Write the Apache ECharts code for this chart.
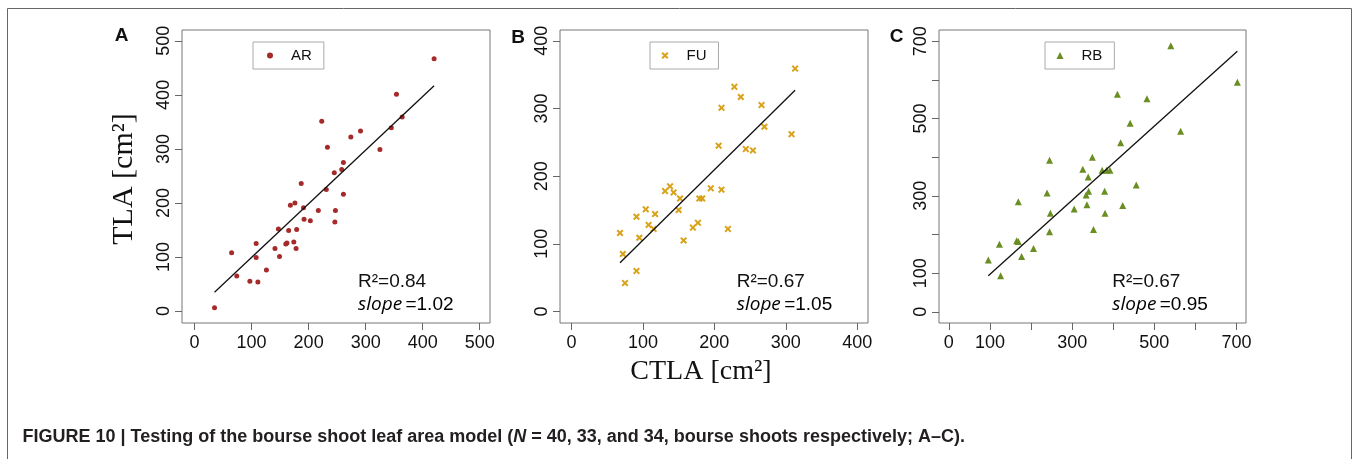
<!DOCTYPE html>
<html><head><meta charset="utf-8">
<script src="https://cdn.jsdelivr.net/npm/echarts@6/dist/echarts.min.js"></script>
<style>html,body{margin:0;padding:0;background:#fff}#c{width:1358px;height:459px}</style>
</head><body><div id="c"></div>
<script>
// ---- data ----
const panelLetters = ['A', 'B', 'C'];
const seriesNames = ['AR', 'FU', 'RB'];
const arData = [[35,6],[65,108],[74,65],[97,55],[111,54],[108,125],[108,99],[126,76],[141,116],[147,152],
  [149,101],[160,124],[162,126],[165,149],[168,196],[176,200],[174,128],[178,116],[179,151],[187,236],
  [191,191],[192,170],[203,167],[217,186],[223,351],[231,225],[233,303],[246,165],[245,256],[247,186],
  [258,262],[261,275],[261,216],[274,322],[291,333],[325,299],[345,339],[354,401],[364,359],[420,467]];
const fuData = [[68,116],[72,85],[75,42],[91,140],[91,60],[95,109],[104,151],[108,128],[115,122],[117,144],
  [131,178],[138,185],[143,176],[150,150],[152,167],[157,105],[170,124],[177,131],[179,167],[183,167],
  [195,182],[206,245],[210,301],[210,180],[219,122],[228,332],[237,317],[244,240],[254,238],[266,305],
  [270,273],[308,262],[313,359]];
const rbData = [[96,134],[123,175],[126,93],[165,184],[169,182],[169,285],[177,143],[206,164],[239,307],
  [245,392],[247,255],[245,207],[305,266],[326,369],[334,302],[336,277],[339,349],[340,312],[349,400],
  [352,213],[373,366],[379,312],[380,255],[384,366],[392,366],[410,563],[418,437],[423,275],[441,488],
  [456,328],[482,551],[540,688],[564,467],[702,594]];
const arFit = [[35,35],[420,417]];
const fuFit = [[68,72],[313,327]];
const rbFit = [[96,93],[702,674]];
const ticksA = [0,100,200,300,400,500];
const ticksB = [0,100,200,300,400];
const ticksC = [0,100,200,300,400,500,600,700];
const labelsC = [0,100,300,500,700];
const r2Texts = ['R²=0.84', 'R²=0.67', 'R²=0.67'];
const slopeTexts = ['1.02', '1.05', '0.95'];
const yTitle = 'TLA [cm²]';
const xTitle = 'CTLA [cm²]';
const captionParts = ['FIGURE 10 | Testing of the bourse shoot leaf area model (', 'N', ' = 40, 33, and 34, bourse shoots respectively; A–C).'];

// ---- layout / style ----
const SANS = '"Liberation Sans", Arial, sans-serif';
const SERIF = '"Liberation Serif", "Times New Roman", serif';
const colors = ['#a52a2a', '#d9a21b', '#6b8e23'];
const xSymbol = 'path://M0,2L2,0L5,3L8,0L10,2L7,5L10,8L8,10L5,7L2,10L0,8L3,5Z';
const grids = [
  {left: 182, top: 30, width: 308, height: 293},
  {left: 560, top: 30, width: 308, height: 293},
  {left: 939, top: 30, width: 307, height: 293}
];
const xr = [[-22, 518], [-16, 415], [-24, 723]];
const yr = [[-22, 520], [-17, 416], [-29, 729]];
const tickSets = [ticksA, ticksB, ticksC];
const labelSets = [ticksA, ticksB, labelsC];

function axis(i, isY) {
  const r = isY ? yr[i] : xr[i];
  return {
    type: 'value', gridIndex: i, min: r[0], max: r[1],
    position: isY ? 'left' : 'bottom',
    axisLine: {show: false, onZero: false},
    splitLine: {show: false},
    axisTick: {show: true, customValues: tickSets[i], length: 7, lineStyle: {color: '#666', width: 1}},
    axisLabel: {
      customValues: labelSets[i], rotate: isY ? 90 : 0, margin: isY ? 9 : 11,
      fontSize: 18, fontFamily: SANS, color: '#111'
    }
  };
}

const legendBoxLeft = [253, 650, 1045];
const iconCenter = [270, 665, 1060];
const iconSize = [6, 7, 7];
const series = [];
const datas = [arData, fuData, rbData];
const fits = [arFit, fuFit, rbFit];
const symbols = ['circle', xSymbol, 'triangle'];
const sizes = [5, 7, 7];
for (let i = 0; i < 3; i++) {
  series.push({
    type: 'scatter', name: seriesNames[i], xAxisIndex: i, yAxisIndex: i,
    data: datas[i], symbol: symbols[i], symbolSize: sizes[i],
    itemStyle: {color: colors[i], opacity: 1}
  });
  series.push({
    type: 'line', name: 'fit' + i, xAxisIndex: i, yAxisIndex: i, data: fits[i],
    symbol: 'none', silent: true, lineStyle: {color: '#111', width: 1.3}
  });
}

const graphic = [
  {type: 'rect', shape: {x: 7.5, y: 8.5, width: 1344, height: 480}, style: {fill: 'none', stroke: '#666', lineWidth: 1}, silent: true},
  {type: 'text', x: 124.5, y: 179, rotation: Math.PI / 2,
    style: {text: yTitle, font: '30px ' + SERIF, fill: '#111', textAlign: 'center', textVerticalAlign: 'middle'}},
  {type: 'text', x: 701, y: 372,
    style: {text: xTitle, font: '28px ' + SERIF, fill: '#111', textAlign: 'center', textVerticalAlign: 'middle'}},
  {type: 'text', x: 22.5, y: 437.5,
    style: {text: '{b|' + captionParts[0] + '}{bi|' + captionParts[1] + '}{b|' + captionParts[2] + '}',
      textAlign: 'left', textVerticalAlign: 'middle', fill: '#231f20',
      rich: {
        b: {fontSize: 18, fontWeight: 'bold', fontFamily: SANS, color: '#231f20'},
        bi: {fontSize: 18, fontWeight: 'bold', fontStyle: 'italic', fontFamily: SANS, color: '#231f20'}
      }}}
];
const letterPos = [[121.7, 36], [518, 37.5], [896.7, 37]];
const statX = [358, 736.7, 1112.3];
for (let i = 0; i < 3; i++) {
  graphic.push({type: 'text', x: letterPos[i][0], y: letterPos[i][1],
    style: {text: panelLetters[i], font: 'bold 19px ' + SANS, fill: '#111', textAlign: 'center', textVerticalAlign: 'middle'}});
  graphic.push({type: 'text', x: statX[i], y: 281.7,
    style: {text: r2Texts[i], font: '19px ' + SANS, fill: '#111', textAlign: 'left', textVerticalAlign: 'middle'}});
  graphic.push({type: 'text', x: statX[i], y: 305,
    style: {text: '{i|slope} {n|=' + slopeTexts[i] + '}', textAlign: 'left', textVerticalAlign: 'middle',
      rich: {
        i: {fontSize: 19, fontStyle: 'italic', fontFamily: '"Open Sans", ' + SANS, color: '#111'},
        n: {fontSize: 19, fontFamily: SANS, color: '#111'}
      }}});
}

const legends = [];
for (let i = 0; i < 3; i++) {
  const padL = iconCenter[i] - legendBoxLeft[i] - iconSize[i] / 2;
  legends.push({
    data: [seriesNames[i]], left: legendBoxLeft[i], top: 42, orient: 'horizontal',
    padding: [6, 12, 6, padL], itemWidth: iconSize[i], itemHeight: iconSize[i], itemGap: 0,
    borderColor: '#aaa', borderWidth: 1, selectedMode: false,
    textStyle: {fontSize: 15, fontFamily: SANS, color: '#111', padding: [0, 0, 0, 13]}
  });
}

const chart = echarts.init(document.getElementById('c'), null, {renderer: 'canvas'});
chart.setOption({
  animation: false,
  backgroundColor: '#fff',
  grid: grids.map(g => Object.assign({show: true, borderColor: '#777', borderWidth: 1, backgroundColor: 'transparent'}, g)),
  xAxis: [0, 1, 2].map(i => axis(i, false)),
  yAxis: [0, 1, 2].map(i => axis(i, true)),
  legend: legends,
  series: series,
  graphic: graphic
});
</script></body></html>
